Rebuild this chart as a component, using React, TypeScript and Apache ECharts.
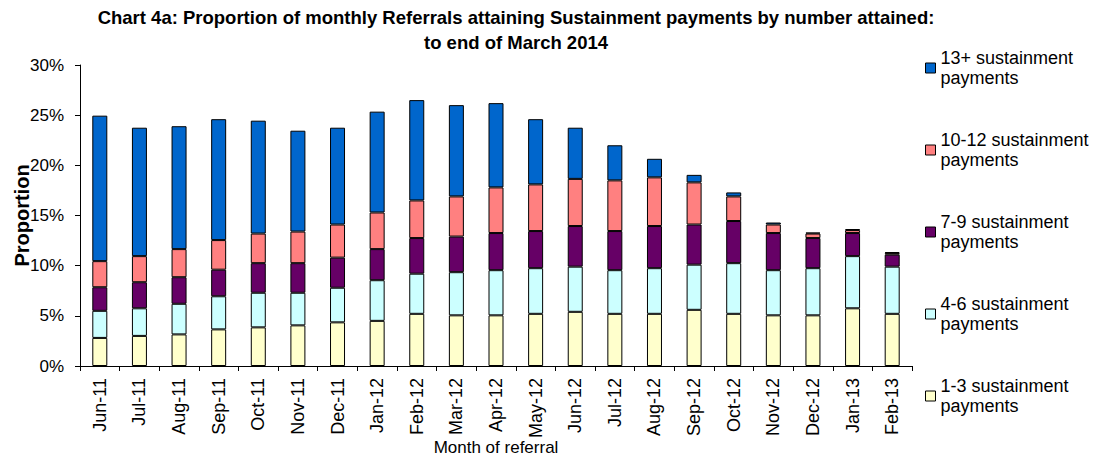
import React, { useEffect, useRef } from "react";
import * as echarts from "echarts";

const months = [
  "Jun-11", "Jul-11", "Aug-11", "Sep-11", "Oct-11", "Nov-11", "Dec-11",
  "Jan-12", "Feb-12", "Mar-12", "Apr-12", "May-12", "Jun-12", "Jul-12",
  "Aug-12", "Sep-12", "Oct-12", "Nov-12", "Dec-12", "Jan-13", "Feb-13",
];

const s1to3 = [2.8, 3.0, 3.15, 3.65, 3.85, 4.05, 4.35, 4.5, 5.2, 5.05, 5.05, 5.2, 5.4, 5.2, 5.2, 5.6, 5.2, 5.05, 5.05, 5.75, 5.2];
const s4to6 = [2.7, 2.75, 3.05, 3.3, 3.45, 3.25, 3.45, 4.05, 4.0, 4.3, 4.5, 4.55, 4.5, 4.35, 4.55, 4.5, 5.05, 4.5, 4.7, 5.2, 4.7];
const s7to9 = [2.35, 2.6, 2.65, 2.65, 2.95, 2.95, 3.0, 3.1, 3.55, 3.55, 3.7, 3.7, 4.05, 3.9, 4.2, 4.0, 4.2, 3.7, 3.0, 2.3, 1.2];
const s10to12 = [2.6, 2.6, 2.8, 2.95, 2.95, 3.15, 3.3, 3.65, 3.75, 4.0, 4.55, 4.65, 4.7, 5.05, 4.85, 4.2, 2.45, 0.85, 0.45, 0.3, 0.15];
const s13plus = [14.5, 12.8, 12.25, 12.05, 11.25, 10.05, 9.65, 10.05, 10.0, 9.1, 8.4, 6.5, 5.1, 3.5, 1.85, 0.75, 0.4, 0.2, 0.1, 0.1, 0.1];

const seriesNames = [
  "1-3 sustainment payments",
  "4-6 sustainment payments",
  "7-9 sustainment payments",
  "10-12 sustainment payments",
  "13+ sustainment payments",
];
const seriesData = [s1to3, s4to6, s7to9, s10to12, s13plus];
const seriesColors = ["#FFFFCC", "#CCFFFF", "#660066", "#FF8080", "#0066CC"];

const titleText =
  "Chart 4a: Proportion of monthly Referrals attaining Sustainment payments by number attained:\nto end of March 2014";

const FONT = "'Liberation Sans', Arial, sans-serif";

export default function App() {
  const ref = useRef<HTMLDivElement>(null);

  useEffect(() => {
    document.body.style.margin = "0";
    const chart = echarts.init(ref.current!, null, { renderer: "svg" });
    chart.setOption({
      animation: false,
      backgroundColor: "#ffffff",
      textStyle: { fontFamily: FONT, color: "#000" },
      title: {
        text: titleText,
        left: 511,
        textAlign: "center",
        top: 0,
        padding: [5, 5, 5, 5],
        textStyle: {
          fontFamily: FONT,
          fontSize: 18.5,
          fontWeight: "bold",
          color: "#000",
          lineHeight: 25,
        },
      },
      legend: {
        orient: "vertical",
        left: 925,
        top: 38,
        padding: 0,
        itemGap: 22,
        itemWidth: 10,
        itemHeight: 10,
        icon: "rect",
        data: [...seriesNames].reverse(),
        formatter: (name: string) => name.replace(" payments", "\npayments"),
        itemStyle: { borderColor: "#000", borderWidth: 1 },
        textStyle: {
          fontFamily: FONT,
          fontSize: 18,
          color: "#000",
          lineHeight: 20,
          padding: [20, 0, 0, 0],
        },
      },
      grid: { left: 80, right: 183, top: 65, bottom: 95, outerBoundsMode: "none", containLabel: false },
      xAxis: {
        type: "category",
        data: months,
        name: "Month of referral",
        nameLocation: "middle",
        nameGap: 73,
        nameMoveOverlap: false,
        nameTextStyle: { fontFamily: FONT, fontSize: 17, color: "#000" },
        axisLine: { show: true, lineStyle: { color: "#000", width: 1 } },
        axisTick: { show: true, length: 5, lineStyle: { color: "#000" } },
        axisLabel: {
          rotate: 90,
          margin: 12,
          fontFamily: FONT,
          fontSize: 18,
          color: "#000",
          interval: 0,
        },
      },
      yAxis: {
        type: "value",
        min: 0,
        max: 30,
        interval: 5,
        name: "Proportion",
        nameLocation: "middle",
        nameGap: 48,
        nameMoveOverlap: false,
        nameTextStyle: { fontFamily: FONT, fontSize: 20, fontWeight: "bold", color: "#000" },
        axisLine: { show: true, lineStyle: { color: "#000", width: 1 } },
        axisTick: { show: true, length: 5, lineStyle: { color: "#000" } },
        splitLine: { show: false },
        axisLabel: {
          formatter: "{value}%",
          fontFamily: FONT,
          fontSize: 17,
          color: "#000",
          margin: 16,
        },
      },
      series: seriesNames.map((name, i) => ({
        name,
        type: "bar",
        stack: "total",
        barWidth: 15,
        data: seriesData[i],
        itemStyle: { color: seriesColors[i], borderColor: "#000", borderWidth: 1 },
      })),
    });
    return () => chart.dispose();
  }, []);

  return <div ref={ref} style={{ width: 1095, height: 461 }} />;
}
